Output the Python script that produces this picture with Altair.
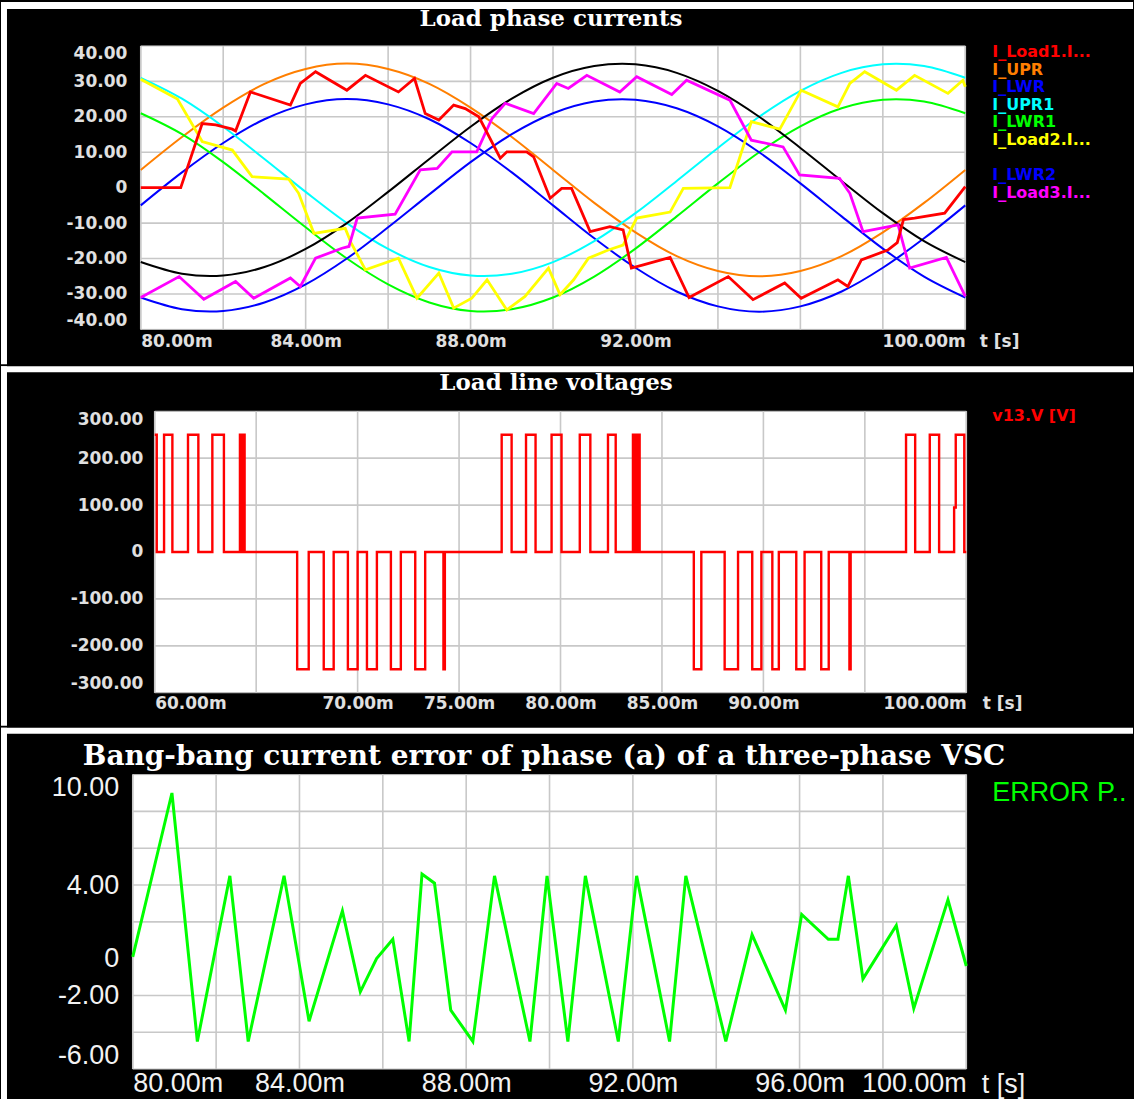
import altair as alt
import pandas as pd

# ---------------- Load phase currents (t in ms) ----------------
t_ref = list(range(80, 101))  # 1 ms samples of the hysteresis band limits
i_upr = [5, 14.3, 22.6, 29.3, 33.5, 35, 33.5, 29.3, 22.6, 14.3, 5, -4.3, -12.6, -19.3, -23.5, -25, -23.5, -19.3, -12.6, -4.3, 5]
i_lwr = [-5, 4.3, 12.6, 19.3, 23.5, 25, 23.5, 19.3, 12.6, 4.3, -5, -14.3, -22.6, -29.3, -33.5, -35, -33.5, -29.3, -22.6, -14.3, -5]
i_upr1 = [31, 25.1, 17.2, 8.1, -1.2, -10, -17.3, -22.4, -24.8, -24.3, -21, -15.1, -7.2, 1.9, 11.2, 20, 27.3, 32.4, 34.8, 34.3, 31]
i_lwr1 = [21, 15.1, 7.2, -1.9, -11.2, -20, -27.3, -32.4, -34.8, -34.3, -31, -25.1, -17.2, -8.1, 1.2, 10, 17.3, 22.4, 24.8, 24.3, 21]
i_upr2 = [-21, -24.3, -24.8, -22.4, -17.3, -10, -1.2, 8.1, 17.2, 25.1, 31, 34.3, 34.8, 32.4, 27.3, 20, 11.2, 1.9, -7.2, -15.1, -21]
i_lwr2 = [-31, -34.3, -34.8, -32.4, -27.3, -20, -11.2, -1.9, 7.2, 15.1, 21, 24.3, 24.8, 22.4, 17.3, 10, 1.2, -8.1, -17.2, -25.1, -31]

# measured load currents as (t, value) vertices
i_load1 = [(80.0, 0), (80.97, 0), (81.49, 18.1), (81.82, 17.7), (82.22, 16.5), (82.3, 16.0), (82.66, 27.0),
           (83.63, 23.3), (83.87, 29.4), (84.24, 32.7), (85.0, 27.5), (85.45, 31.7), (86.25, 27.0), (86.64, 30.8),
           (86.9, 20.9), (87.23, 19.1), (87.59, 23.3), (87.87, 22.3), (88.2, 20.0), (88.72, 8.3), (88.88, 10.1),
           (89.36, 10.1), (89.53, 8.7), (89.93, -3.0), (90.21, -0.2), (90.45, -0.2), (90.9, -12.4), (91.38, -11.0),
           (91.7, -11.9), (91.9, -22.7), (92.19, -21.8), (92.84, -19.7), (93.3, -31.0), (94.25, -25.1), (94.85, -31.6),
           (95.62, -26.9), (96.02, -31.2), (96.91, -26.0), (97.15, -27.9), (97.48, -20.4), (98.12, -17.6),
           (98.35, -15.5), (98.5, -9.0), (98.77, -8.6), (99.5, -7.2), (100.0, 0.3)]
i_load2 = [(80.0, 30.6), (80.89, 25.0), (81.49, 13.0), (82.22, 10.6), (82.7, 3.1), (83.59, 2.4), (83.83, -1.6),
           (84.2, -12.9), (84.96, -11.5), (85.1, -15.5), (85.45, -23.2), (86.25, -19.9), (86.7, -31.2), (87.23, -24.1),
           (87.59, -34.0), (88.03, -31.2), (88.4, -26.0), (88.88, -34.5), (89.32, -30.7), (89.89, -22.7),
           (90.17, -30.2), (90.5, -26.0), (90.86, -19.9), (91.34, -17.6), (91.7, -16.2), (92.03, -8.6), (92.84, -6.9),
           (93.16, -0.2), (94.29, 0.0), (94.81, 18.6), (95.5, 16.5), (96.02, 27.5), (96.91, 22.8), (97.2, 29.4),
           (97.56, 32.7), (98.33, 27.5), (98.77, 31.7), (99.58, 26.6), (99.94, 30.3), (100.0, 28.5)]
i_load3 = [(80.0, -31.0), (80.93, -25.1), (81.53, -31.5), (82.3, -26.5), (82.74, -31.2), (83.63, -25.5),
           (83.87, -27.9), (84.24, -19.9), (84.88, -17.1), (85.05, -16.6), (85.25, -8.6), (86.17, -7.5), (86.78, 5.0),
           (87.19, 5.4), (87.55, 10.1), (88.15, 10.1), (88.52, 19.5), (88.84, 23.8), (89.53, 20.9), (90.09, 29.4),
           (90.37, 28.0), (90.82, 31.7), (91.62, 27.0), (92.03, 31.3), (92.88, 26.3), (93.24, 30.3), (94.29, 24.7),
           (94.81, 13.4), (95.58, 11.5), (95.98, 3.6), (96.95, 2.6), (97.2, -1.6), (97.52, -12.4), (98.37, -10.5),
           (98.65, -22.7), (99.54, -19.7), (100.0, -30.7)]

current_names = ["I_Load1.I...", "I_UPR", "I_LWR", "I_UPR1", "I_LWR1", "I_Load2.I...", "I_UPR2", "I_LWR2", "I_Load3.I..."]
current_colors = ["#ff0000", "#ff7f00", "#0000ff", "#00ffff", "#00ff00", "#ffff00", "#000000", "#0000ff", "#ff00ff"]

# ---------------- Load line voltage: switching instants (ms) and level after each ----------------
v13_steps = [(60.0, 250), (60.1, 0), (60.46, 250), (60.87, 0), (61.64, 250), (62.15, 0), (62.84, 250), (63.41, 0),
             (64.2, 250), (64.26, 0), (64.29, 250), (64.35, 0), (64.38, 250), (64.43, 0),
             (67.02, -250), (67.59, 0), (68.33, -250), (68.82, 0), (69.52, -250), (70.0, 0), (70.46, -250),
             (70.95, 0), (71.64, -250), (72.13, 0), (72.84, -250), (73.33, 0), (74.23, -250), (74.3, 0),
             (77.1, 250), (77.59, 0), (78.3, 250), (78.77, 0), (79.56, 250), (80.05, 0), (80.95, 250), (81.47, 0),
             (82.34, 250), (82.72, 0), (83.57, 250), (83.64, 0), (83.68, 250), (83.76, 0), (83.8, 250), (83.9, 0),
             (86.57, -250), (86.94, 0), (88.09, -250), (88.75, 0), (89.45, -250), (89.9, 0), (90.44, -250),
             (90.76, 0), (91.62, -250), (92.03, 0), (92.85, -250), (93.22, 0), (94.24, -250), (94.3, 0),
             (97.03, 250), (97.48, 0), (98.2, 250), (98.66, 0), (99.4, 95), (99.48, 250), (99.9, 0), (100.0, 0)]

# ---------------- Bang-bang current error, phase (a) ----------------
error_a = [(80.0, 0.1), (80.94, 9.0), (81.55, -4.5), (82.33, 4.5), (82.77, -4.5), (83.63, 4.5), (84.23, -3.4),
           (85.03, 2.6), (85.46, -1.8), (85.85, 0.0), (86.24, 1.05), (86.63, -4.5), (86.94, 4.6), (87.24, 4.1),
           (87.63, -2.8), (88.16, -4.5), (88.68, 4.5), (89.53, -4.5), (89.94, 4.5), (90.44, -4.5), (90.86, 4.5),
           (91.65, -4.5), (92.09, 4.5), (92.88, -4.5), (93.27, 4.5), (94.23, -4.5), (94.86, 1.3), (95.66, -2.8),
           (96.05, 2.4), (96.69, 1.05), (96.92, 1.05), (97.17, 4.5), (97.52, -1.1), (98.32, 1.8), (98.74, -2.7),
           (99.56, 3.2), (100.0, -0.4)]

# ---------------- axis ticks and grid ----------------
p1_xgrid = list(range(80, 101, 2))
p1_xlabels = [80, 84, 88, 92, 100]
p1_yticks = list(range(-40, 41, 10))
p1_ygrid = [-30, -20, -10, 10, 20, 30]
p2_xgrid = list(range(60, 101, 5))
p2_xlabels = [60, 70, 75, 80, 85, 90, 100]
p2_yticks = list(range(-300, 301, 100))
p2_ygrid = [-200, -100, 100, 200]
p3_xgrid = list(range(80, 101, 2))
p3_xlabels = [80, 84, 88, 92, 96, 100]
p3_yticks = [10, 4, 0, -2, -6]
p3_ygrid = [-4, -2, 2, 4, 6, 8]

GRID = "#c8c8c8"
SANS_W = "DejaVu Sans"
SANS = "Liberation Sans"
SERIF = "DejaVu Serif"
LEFT = 132  # common left edge of the three panels' drawing groups


def x_label_expr(shown):
    arr = ",".join(str(v) for v in shown)
    return f"indexof([{arr}], datum.value) >= 0 ? format(datum.value, '.2f') + 'm' : ''"


def y_label_expr():
    return "datum.value == 0 ? '0' : (datum.value < 0 ? '-' : '') + format(abs(datum.value), '.2f')"


def x_axis(ticks, shown, font, size, weight, color, pad, tx, ty):
    return alt.Axis(values=ticks, labelExpr=x_label_expr(shown), grid=False, domain=False, ticks=False,
                    labelFlush=30, labelOverlap=False, labelPadding=pad,
                    labelFont=font, labelFontSize=size, labelFontWeight=weight, labelColor=color,
                    title="t [s]", titleX=tx, titleY=ty, titleAlign="left", titleBaseline="middle",
                    titleFont=font, titleFontSize=size, titleFontWeight=weight, titleColor=color, titleAngle=0)


def y_axis(ticks, font, size, weight, color, pad, shift):
    return alt.Axis(values=ticks, labelExpr=y_label_expr(), grid=False, domain=False, ticks=False,
                    labelFlush=True, labelOverlap=False, labelPadding=pad, offset=-shift,
                    labelFont=font, labelFontSize=size, labelFontWeight=weight,
                    labelColor=color, title=None)


def panel(x0, x1, y0, y1, width, height, shift, xax, yax, xgrid, ygrid, series, texts, deco):
    """One oscilloscope panel: plot background, grid, traces, labels and page border pieces."""
    xs = alt.Scale(domain=[x0 - shift * (x1 - x0) / (width - shift), x1], nice=False, zero=False)
    ys = alt.Scale(domain=[y0, y1], nice=False, zero=False)
    one = alt.Data(values=[{}])
    layers = []
    for (a, b, c, d) in deco:
        layers.append(alt.Chart(one).mark_rect(color="#ffffff").encode(
            x=alt.value(a), x2=alt.value(b), y=alt.value(c), y2=alt.value(d)))
    layers.append(alt.Chart(one).mark_rect(fill="#ffffff", stroke="#b8b8b8", strokeWidth=1).encode(
        x=alt.XDatum(x0, scale=xs, axis=xax), x2=alt.X2Datum(x1),
        y=alt.YDatum(y1, scale=ys, axis=yax), y2=alt.Y2Datum(y0)))
    layers.append(alt.Chart(pd.DataFrame({"g": xgrid})).mark_rule(color=GRID, strokeWidth=1.6).encode(
        x=alt.X("g:Q", scale=xs, axis=xax)))
    layers.append(alt.Chart(pd.DataFrame({"g": ygrid})).mark_rule(color=GRID, strokeWidth=1.6).encode(
        y=alt.Y("g:Q", scale=ys, axis=yax), x=alt.XDatum(x0, scale=xs, axis=xax), x2=alt.X2Datum(x1)))
    for df, color, sw, interp in series:
        layers.append(alt.Chart(df).mark_line(color=color, strokeWidth=sw, interpolate=interp).encode(
            x=alt.X("t:Q", scale=xs, axis=xax), y=alt.Y("v:Q", scale=ys, axis=yax), order="i:Q"))
    for (txt, tx, ty, color, font, size, weight, align) in texts:
        layers.append(alt.Chart(one).mark_text(
            text=txt, color=color, font=font, fontSize=size, fontWeight=weight, align=align,
            baseline="alphabetic").encode(x=alt.value(tx), y=alt.value(ty)))
    return alt.layer(*layers).properties(
        width=width, height=height, view=alt.ViewBackground(fill="transparent", stroke="transparent"))


def from_pairs(pairs):
    return pd.DataFrame({"t": [p[0] for p in pairs], "v": [p[1] for p in pairs], "i": range(len(pairs))})


def from_ref(vals):
    return pd.DataFrame({"t": t_ref, "v": vals, "i": range(len(vals))})


# ---------- panel 1: plot area x 140..966, y 44..328 ----------
xa1 = x_axis(p1_xgrid, p1_xlabels, SANS_W, 17, "bold", "#e0e0e0", 4, 980 - LEFT, 12)
ya1 = y_axis(p1_yticks, SANS_W, 17, "bold", "#e0e0e0", 14, 8)
series1 = [(from_ref(v), c, 2, "cardinal") for v, c in
           [(i_upr, current_colors[1]), (i_lwr, current_colors[2]), (i_upr1, current_colors[3]),
            (i_lwr1, current_colors[4]), (i_upr2, current_colors[6]), (i_lwr2, current_colors[7])]]
series1 += [(from_pairs(p), c, 2.8, "linear") for p, c in
            [(i_load2, current_colors[5]), (i_load3, current_colors[8]), (i_load1, current_colors[0])]]
texts1 = [("Load phase currents", 551 - LEFT, -20, "#ffffff", SERIF, 23, "bold", "center")]
texts1 += [(n, 993 - LEFT, 11 + 17.68 * k, c, SANS_W, 16, "bold", "left")
           for k, (n, c) in enumerate(zip(current_names, current_colors))]
p1 = panel(80, 100, -40, 40, 966 - LEFT, 284, 8, xa1, ya1, p1_xgrid, p1_ygrid, series1, texts1,
           [(-LEFT, 1134 - LEFT, -44, -37), (-LEFT, 6 - LEFT, -44, 319)])

# ---------- panel 2: plot area x 154..967, y 408..690 ----------
xa2 = x_axis(p2_xgrid, p2_xlabels, SANS_W, 17, "bold", "#e0e0e0", 3, 983 - LEFT, 11)
ya2 = y_axis(p2_yticks, SANS_W, 17, "bold", "#e0e0e0", 12, 22)
series2 = [(from_pairs(v13_steps), "#ff0000", 2.4, "step-after")]
texts2 = [("Load line voltages", 556 - LEFT, -21.5, "#ffffff", SERIF, 23, "bold", "center"),
          ("v13.V [V]", 993 - LEFT, 10, "#ff0000", SANS_W, 16, "bold", "left")]
p2 = panel(60, 100, -300, 300, 967 - LEFT, 282, 22, xa2, ya2, p2_xgrid, p2_ygrid, series2, texts2,
           [(-LEFT, 1134 - LEFT, -45, -39), (-LEFT, 6 - LEFT, -45, 315)])

# ---------- panel 3: plot area x 132..967, y 770..1065 ----------
xa3 = x_axis(p3_xgrid, p3_xlabels, SANS, 27, "normal", "#f2f2f2", 1, 982 - LEFT, 15)
ya3 = y_axis(p3_yticks, SANS, 27, "normal", "#f2f2f2", 14, 0)
series3 = [(from_pairs(error_a), "#00ff00", 3, "linear")]
texts3 = [("Bang-bang current error of phase (a) of a three-phase VSC", 544 - LEFT, -10, "#ffffff",
           SERIF, 28, "bold", "center"),
          ("ERROR P..", 993 - LEFT, 26, "#00ff00", SANS, 27, "normal", "left")]
p3 = panel(80, 100, -6, 10, 967 - LEFT, 295, 0, xa3, ya3, p3_xgrid, p3_ygrid, series3, texts3,
           [(-LEFT, 1134 - LEFT, -47, -41), (-LEFT, 6 - LEFT, -47, 329)])

chart = alt.vconcat(p1, p2, p3, spacing=0).properties(background="#000000", padding=0)

chart.save("out.html", embed_options={"renderer": "svg", "actions": False})
